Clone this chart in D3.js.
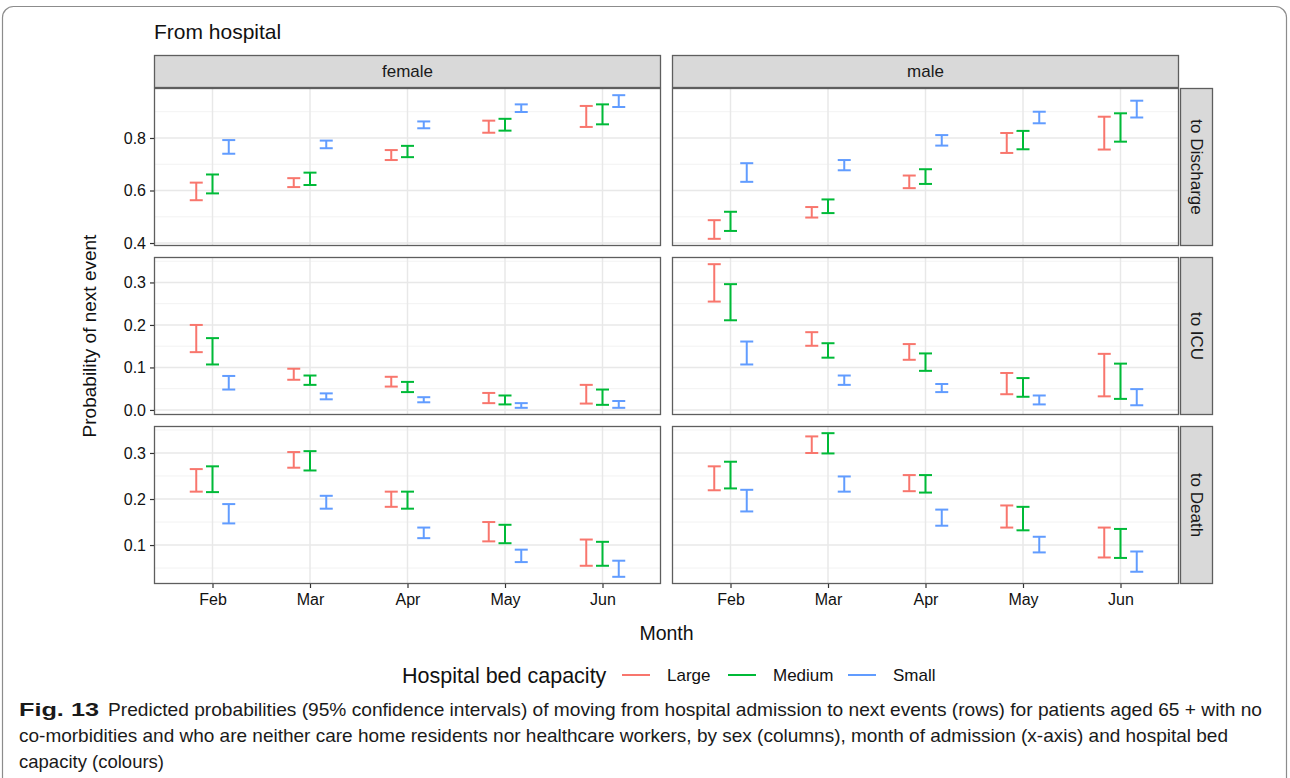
<!DOCTYPE html>
<html><head><meta charset="utf-8">
<script src="https://cdn.jsdelivr.net/npm/d3@7"></script>
<style>
html,body{margin:0;padding:0;background:#fff;}
svg{display:block;font-family:"Liberation Sans",Arial,sans-serif;}
</style></head>
<body>
<svg id="chart" width="1290" height="778"></svg>
<script>
// ---------- data ----------
const months = ["Feb","Mar","Apr","May","Jun"];
const sexes = ["female","male"];
const events = ["to Discharge","to ICU","to Death"];
const capacities = ["Large","Medium","Small"];
const capColors = ["#F8766D","#00BA38","#619CFF"];
const yTicks = [[0.4,0.6,0.8],[0.0,0.1,0.2,0.3],[0.1,0.2,0.3]];

// lower / upper bounds, per capacity, per month (Feb..Jun)
const femaleDischargeLarge  = [[0.563,0.630],[0.613,0.647],[0.716,0.754],[0.820,0.866],[0.842,0.922]];
const femaleDischargeMedium = [[0.589,0.661],[0.621,0.668],[0.727,0.770],[0.828,0.873],[0.852,0.928]];
const femaleDischargeSmall  = [[0.740,0.792],[0.761,0.790],[0.837,0.863],[0.899,0.928],[0.918,0.963]];
const maleDischargeLarge    = [[0.416,0.487],[0.497,0.537],[0.609,0.657],[0.743,0.819],[0.756,0.881]];
const maleDischargeMedium   = [[0.446,0.519],[0.514,0.566],[0.625,0.681],[0.757,0.827],[0.786,0.894]];
const maleDischargeSmall    = [[0.633,0.704],[0.677,0.716],[0.771,0.811],[0.856,0.900],[0.878,0.942]];

const femaleICULarge  = [[0.136,0.200],[0.071,0.097],[0.055,0.078],[0.016,0.040],[0.015,0.059]];
const femaleICUMedium = [[0.107,0.169],[0.059,0.081],[0.042,0.066],[0.013,0.034],[0.012,0.048]];
const femaleICUSmall  = [[0.048,0.080],[0.025,0.039],[0.018,0.030],[0.005,0.016],[0.005,0.021]];
const maleICULarge    = [[0.255,0.343],[0.151,0.183],[0.118,0.155],[0.037,0.087],[0.032,0.132]];
const maleICUMedium   = [[0.211,0.296],[0.123,0.157],[0.092,0.133],[0.031,0.075],[0.026,0.109]];
const maleICUSmall    = [[0.107,0.161],[0.059,0.081],[0.042,0.061],[0.013,0.034],[0.011,0.049]];

const femaleDeathLarge  = [[0.216,0.265],[0.268,0.302],[0.183,0.216],[0.108,0.150],[0.055,0.112]];
const femaleDeathMedium = [[0.215,0.271],[0.262,0.304],[0.179,0.216],[0.104,0.144],[0.055,0.107]];
const femaleDeathSmall  = [[0.147,0.189],[0.179,0.207],[0.115,0.138],[0.063,0.090],[0.031,0.066]];
const maleDeathLarge    = [[0.219,0.271],[0.300,0.336],[0.217,0.252],[0.138,0.186],[0.073,0.138]];
const maleDeathMedium   = [[0.223,0.281],[0.299,0.343],[0.214,0.252],[0.132,0.183],[0.072,0.135]];
const maleDeathSmall    = [[0.173,0.220],[0.216,0.249],[0.142,0.177],[0.084,0.118],[0.042,0.086]];

const dataTable = {
  "female|to Discharge":[femaleDischargeLarge,femaleDischargeMedium,femaleDischargeSmall],
  "male|to Discharge":[maleDischargeLarge,maleDischargeMedium,maleDischargeSmall],
  "female|to ICU":[femaleICULarge,femaleICUMedium,femaleICUSmall],
  "male|to ICU":[maleICULarge,maleICUMedium,maleICUSmall],
  "female|to Death":[femaleDeathLarge,femaleDeathMedium,femaleDeathSmall],
  "male|to Death":[maleDeathLarge,maleDeathMedium,maleDeathSmall]
};

// ---------- layout ----------
const svg = d3.select("#chart");
const panelLeft = 154, panelW = 507, colGap = 11;
const panelTop = 88, panelH = 158, rowGap = 11;
const stripH = 33, stripW = 33;
const colX = i => panelLeft + i*(panelW+colGap);
const rowY = j => panelTop + j*(panelH+rowGap);
const gridRight = colX(1)+panelW;
const gridBottom = rowY(2)+panelH;
const FONT = "Liberation Sans, Arial, sans-serif";

// outer frame
svg.append("rect").attr("x",2.5).attr("y",6.5).attr("width",1284).attr("height",820)
  .attr("rx",11).attr("fill","none").attr("stroke","#8c8c8c").attr("stroke-width",1.2);

// title
svg.append("text").attr("x",154).attr("y",39).attr("font-size",21).attr("fill","#111").text("From hospital");

const x = d3.scalePoint().domain(months).range([0,panelW]).padding(0.6);
const dodge = d3.scaleBand().domain(capacities).range([-x.step()*0.25, x.step()*0.25]);
const capW = dodge.bandwidth()*0.8;

events.forEach((ev,j)=>{
  const vals = [];
  sexes.forEach(s=>dataTable[s+"|"+ev].forEach(arr=>arr.forEach(d=>vals.push(d[0],d[1]))));
  const [mn,mx] = d3.extent(vals);
  const pad = (mx-mn)*0.05;
  const y = d3.scaleLinear().domain([mn-pad,mx+pad]).range([panelH,0]);
  const ticks = yTicks[j];
  const stepT = ticks[1]-ticks[0];
  const minor = [];
  for(let t=ticks[0]-stepT/2; t<=ticks[ticks.length-1]+stepT; t+=stepT){
    const tv = +t.toFixed(4);
    if(tv>=y.domain()[0] && tv<=y.domain()[1]) minor.push(tv);
  }

  sexes.forEach((s,i)=>{
    const g = svg.append("g").attr("transform",`translate(${colX(i)},${rowY(j)})`);
    g.append("rect").attr("width",panelW).attr("height",panelH).attr("fill","#fff");
    g.selectAll(".mn").data(minor).join("line")
      .attr("x1",0).attr("x2",panelW).attr("y1",d=>y(d)).attr("y2",d=>y(d))
      .attr("stroke","#f0f0f0").attr("stroke-width",0.9);
    g.selectAll(".mjy").data(ticks).join("line")
      .attr("x1",0).attr("x2",panelW).attr("y1",d=>y(d)).attr("y2",d=>y(d))
      .attr("stroke","#e8e8e8").attr("stroke-width",1.5);
    g.selectAll(".mjx").data(months).join("line")
      .attr("y1",0).attr("y2",panelH).attr("x1",d=>x(d)).attr("x2",d=>x(d))
      .attr("stroke","#e8e8e8").attr("stroke-width",1.5);

    const series = dataTable[s+"|"+ev];
    capacities.forEach((c,k)=>{
      const col = capColors[k];
      const gg = g.append("g").attr("stroke",col).attr("stroke-width",2).attr("fill","none");
      series[k].forEach((d,m)=>{
        const cx = x(months[m]) + dodge(c) + dodge.bandwidth()/2;
        gg.append("line").attr("x1",cx).attr("x2",cx).attr("y1",y(d[0])).attr("y2",y(d[1]));
        gg.append("line").attr("x1",cx-capW/2).attr("x2",cx+capW/2).attr("y1",y(d[0])).attr("y2",y(d[0]));
        gg.append("line").attr("x1",cx-capW/2).attr("x2",cx+capW/2).attr("y1",y(d[1])).attr("y2",y(d[1]));
      });
    });

    g.append("rect").attr("x",0.5).attr("y",0.5).attr("width",panelW-1).attr("height",panelH-1)
      .attr("fill","none").attr("stroke","#5e5e5e").attr("stroke-width",1.3);

    if(i===0){
      const ax = g.append("g").call(d3.axisLeft(y).tickValues(ticks).tickFormat(d3.format(".1f")).tickSize(4).tickPadding(4));
      ax.select(".domain").remove();
      ax.selectAll("line").attr("stroke","#333").attr("stroke-width",1.2);
      ax.selectAll("text").attr("font-size",16).attr("fill","#111").attr("font-family",FONT);
    }
    if(j===2){
      const ax = g.append("g").attr("transform",`translate(0,${panelH})`)
        .call(d3.axisBottom(x).tickSize(4).tickPadding(6));
      ax.select(".domain").remove();
      ax.selectAll("line").attr("stroke","#333").attr("stroke-width",1.2);
      ax.selectAll("text").attr("font-size",16).attr("fill","#111").attr("font-family",FONT);
    }
  });

  const sx = gridRight+1, sy = rowY(j);
  svg.append("rect").attr("x",sx+0.5).attr("y",sy+0.5).attr("width",stripW-1).attr("height",panelH-1)
    .attr("fill","#d9d9d9").attr("stroke","#5e5e5e").attr("stroke-width",1.3);
  svg.append("text").attr("transform",`translate(${sx+stripW/2},${sy+panelH/2}) rotate(90)`)
    .attr("text-anchor","middle").attr("dy","0.35em").attr("font-size",17).attr("fill","#1a1a1a").text(ev);
});

sexes.forEach((s,i)=>{
  svg.append("rect").attr("x",colX(i)+0.5).attr("y",55.5).attr("width",panelW-1).attr("height",stripH-1)
    .attr("fill","#d9d9d9").attr("stroke","#5e5e5e").attr("stroke-width",1.3);
  svg.append("text").attr("x",colX(i)+panelW/2).attr("y",55+stripH/2).attr("dy","0.35em")
    .attr("text-anchor","middle").attr("font-size",17).attr("fill","#1a1a1a").text(s);
});

svg.append("text").attr("x",(panelLeft+gridRight)/2).attr("y",640).attr("text-anchor","middle")
  .attr("font-size",19.5).attr("fill","#111").text("Month");
svg.append("text").attr("transform",`translate(96,${(panelTop+gridBottom)/2}) rotate(-90)`)
  .attr("text-anchor","middle").attr("font-size",19).attr("fill","#111").text("Probability of next event");

const lg = svg.append("g");
lg.append("text").attr("x",402).attr("y",683).attr("font-size",21.5).attr("fill","#111").text("Hospital bed capacity");
const legX = [622,728,848];
capacities.forEach((c,k)=>{
  lg.append("line").attr("x1",legX[k]).attr("x2",legX[k]+28).attr("y1",675).attr("y2",675)
    .attr("stroke",capColors[k]).attr("stroke-width",2);
  lg.append("text").attr("x",legX[k]+45).attr("y",681).attr("font-size",17).attr("fill","#111").text(c);
});

const capFont = "'Liberation Sans Narrow','Liberation Sans',Arial,sans-serif";
function capLine(txt, x0, y0, len, bold){
  svg.append("text").attr("x",x0).attr("y",y0).attr("font-size",18.5).attr("font-family",capFont)
    .attr("font-weight",bold?"bold":"normal").attr("fill","#1a1a1a")
    .attr("textLength",len).attr("lengthAdjust","spacingAndGlyphs").text(txt);
}
capLine("Fig. 13",19,716,80,true);
capLine("Predicted probabilities (95% confidence intervals) of moving from hospital admission to next events (rows) for patients aged 65 + with no",108,716,1154,false);
capLine("co-morbidities and who are neither care home residents nor healthcare workers, by sex (columns), month of admission (x-axis) and hospital bed",19,742,1209,false);
capLine("capacity (colours)",19,768,145,false);
</script>
</body></html>
